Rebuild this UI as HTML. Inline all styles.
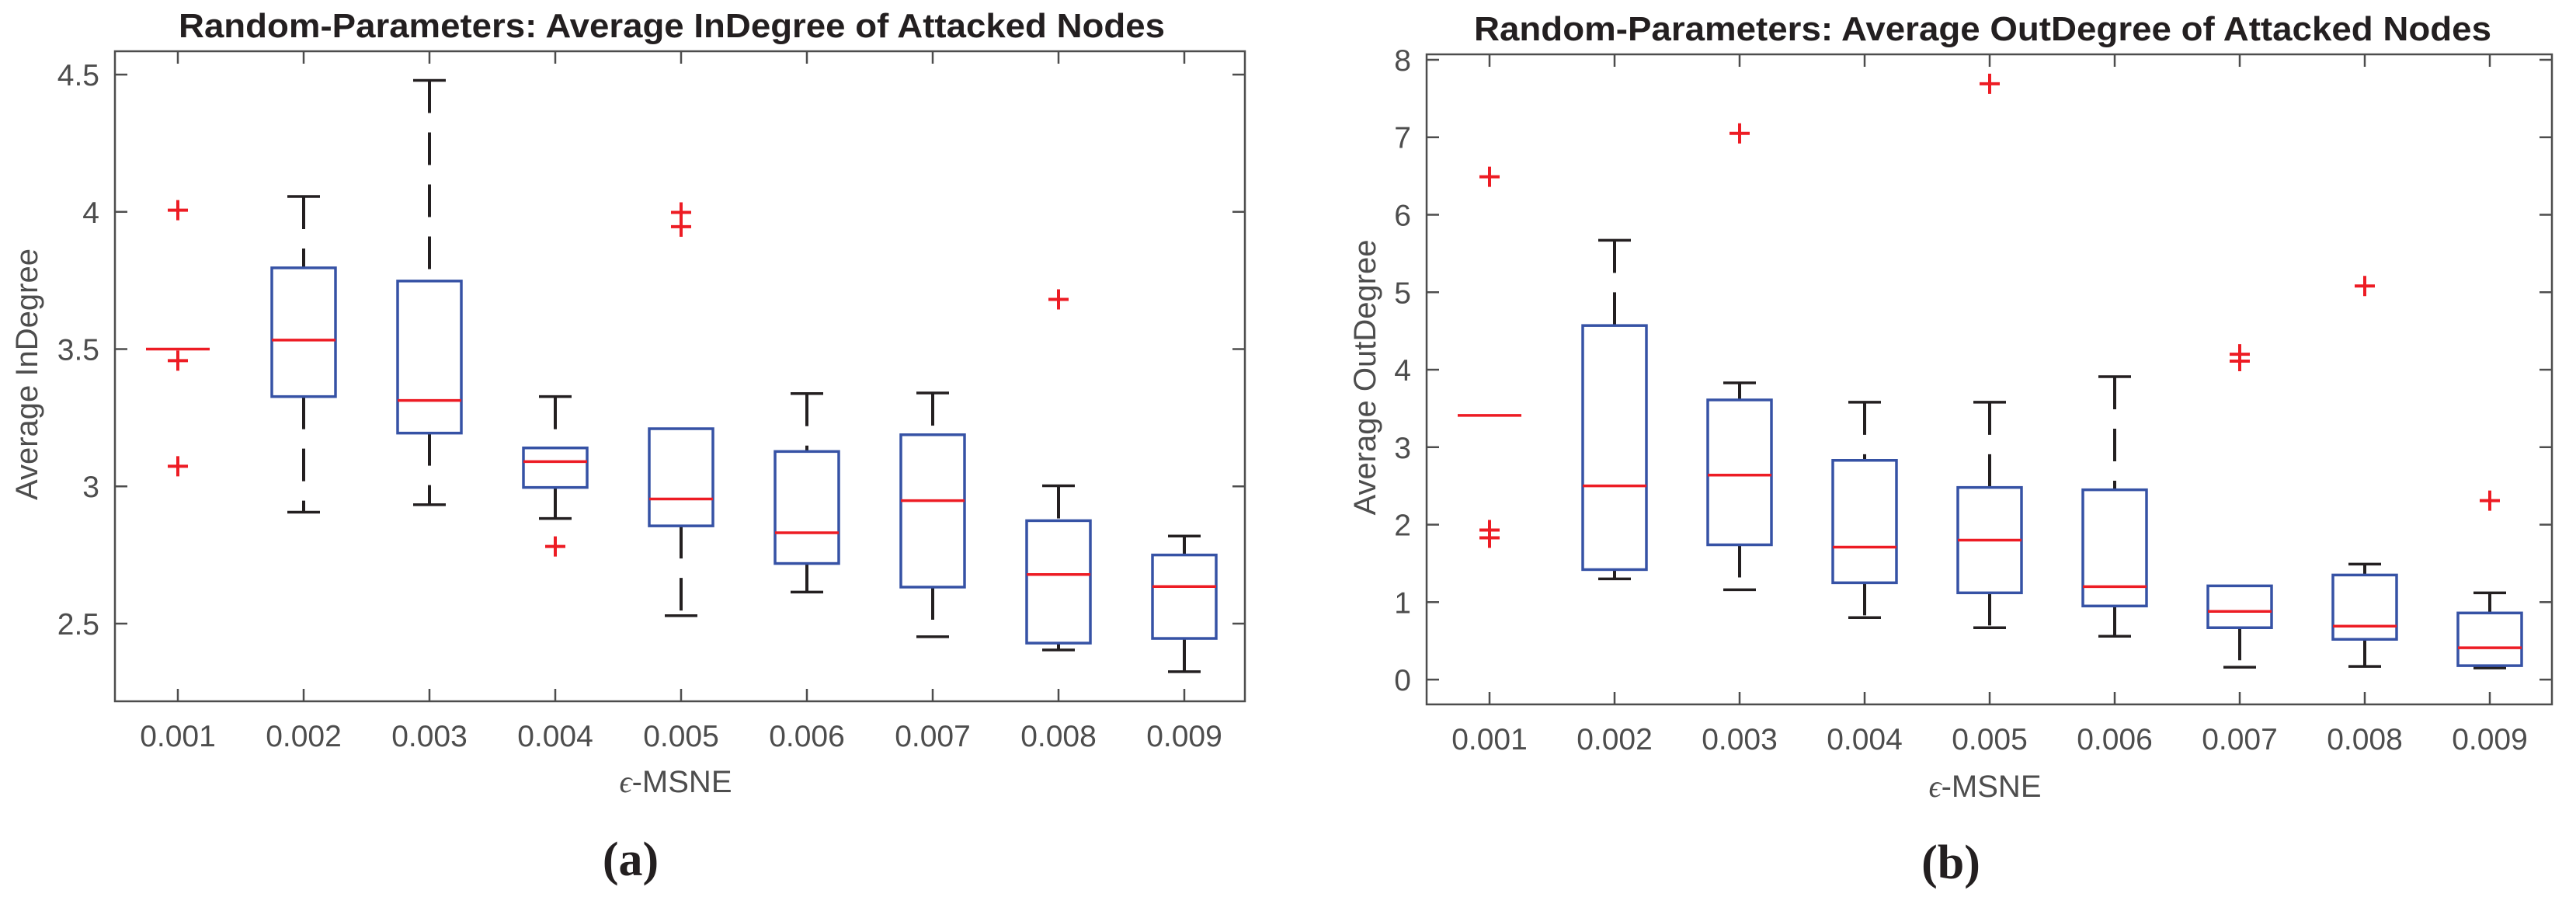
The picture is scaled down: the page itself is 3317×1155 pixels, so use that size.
<!DOCTYPE html>
<html><head><meta charset="utf-8"><style>
html,body{margin:0;padding:0;background:#fff;}
svg{display:block;}
text{font-family:"Liberation Sans",sans-serif;}
</style></head><body>
<svg id="fig" width="3317" height="1155" viewBox="0 0 3317 1155" xmlns="http://www.w3.org/2000/svg"></svg>
<script>
const categories = ["0.001","0.002","0.003","0.004","0.005","0.006","0.007","0.008","0.009"];
// Chart A: InDegree
const inLow    = [3.50, 2.906, 2.933, 2.883, 2.529, 2.615, 2.452, 2.404, 2.325];
const inQ1     = [3.50, 3.327, 3.194, 2.996, 2.856, 2.719, 2.633, 2.429, 2.446];
const inMed    = [3.50, 3.533, 3.313, 3.090, 2.954, 2.831, 2.948, 2.679, 2.635];
const inQ3     = [3.50, 3.796, 3.748, 3.140, 3.210, 3.127, 3.188, 2.875, 2.750];
const inHigh   = [3.50, 4.056, 4.479, 3.327, 3.210, 3.338, 3.340, 3.002, 2.819];
const inOutliers = [[4.006,3.458,3.073],[],[],[2.781],[3.998,3.946],[],[],[3.681],[]];
const inTicks  = [2.5, 3, 3.5, 4, 4.5];
const inTickLabels = ["2.5","3","3.5","4","4.5"];
// Chart B: OutDegree
const outLow   = [3.41, 1.30, 1.16, 0.80, 0.67, 0.56, 0.16, 0.17, 0.15];
const outQ1    = [3.41, 1.42, 1.74, 1.25, 1.12, 0.95, 0.67, 0.52, 0.18];
const outMed   = [3.41, 2.50, 2.64, 1.71, 1.80, 1.20, 0.88, 0.69, 0.41];
const outQ3    = [3.41, 4.57, 3.61, 2.83, 2.48, 2.45, 1.21, 1.35, 0.86];
const outHigh  = [3.41, 5.67, 3.83, 3.58, 3.58, 3.91, 1.21, 1.49, 1.12];
const outOutliers = [[6.49,1.93,1.83],[],[7.05],[],[7.69],[],[4.20,4.11],[5.08],[2.31]];
const outTicks = [0,1,2,3,4,5,6,7,8];
const outTickLabels = ["0","1","2","3","4","5","6","7","8"];

const NS = "http://www.w3.org/2000/svg";
const svg = document.getElementById('fig');
function mk(tag, attrs, parent){
  const e = document.createElementNS(NS, tag);
  for (const k in attrs) e.setAttribute(k, attrs[k]);
  (parent||svg).appendChild(e);
  return e;
}

function drawChart(cfg){
  const g = mk('g', {});
  
  
  const {L,R,T,B,x0,dx,yTop,yBot} = cfg;
  const sy = v => T + (yTop - v) / (yTop - yBot) * (B - T);
  const sx = i => x0 + dx * i;
  const axisCol = '#4d4d4d';
  const t = mk('text', {x: cfg.titleX, y: cfg.titleY, 'text-anchor':'middle', 'font-size':44, 'font-weight':'bold', fill:'#231f20', textLength: cfg.titleW, lengthAdjust:'spacingAndGlyphs'}, g);
  t.textContent = cfg.title;
  
  
  const fr = mk('rect', {x:L, y:T, width:R-L, height:B-T, fill:'none', stroke:axisCol, 'stroke-width':2.5}, g);
  
  
  cfg.ticks.forEach((v,k)=>{
    const y = sy(v);
    mk('line', {x1:L, x2:L+16, y1:y, y2:y, stroke:axisCol, 'stroke-width':2.5}, g);
    mk('line', {x1:R, x2:R-16, y1:y, y2:y, stroke:axisCol, 'stroke-width':2.5}, g);
    const tl = mk('text', {x:L-20, y:y+14, 'text-anchor':'end', 'font-size':39, fill:axisCol}, g);
    tl.textContent = cfg.tickLabels[k];
    
    
  });
  categories.forEach((c,i)=>{
    const x = sx(i);
    mk('line', {x1:x, x2:x, y1:B, y2:B-16, stroke:axisCol, 'stroke-width':2.5}, g);
    mk('line', {x1:x, x2:x, y1:T, y2:T+16, stroke:axisCol, 'stroke-width':2.5}, g);
    const tl = mk('text', {x:x, y:cfg.tickY, 'text-anchor':'middle', 'font-size':39, fill:axisCol}, g);
    tl.textContent = c;
    
    
  });
  const xl = mk('text', {x:cfg.xlabX, y:cfg.xlabY, 'text-anchor':'middle', 'font-size':40, fill:axisCol}, g);
  xl.innerHTML = '<tspan style="font-family:\'Liberation Serif\',serif;font-style:italic">ϵ</tspan>-MSNE';
  
  
  const yl = mk('text', {x:0, y:0, 'text-anchor':'middle', 'font-size':40, fill:axisCol, transform:`translate(${cfg.ylabX},${cfg.ylabY}) rotate(-90)`}, g);
  yl.textContent = cfg.ylabel;
  
  
  const pl = mk('text', {x:cfg.panelX, y:cfg.panelY, 'text-anchor':'middle', 'font-size':62, 'font-weight':'bold', fill:'#231f20', style:"font-family:'Liberation Serif',serif"}, g);
  pl.textContent = cfg.panel;
  
  
  const hw = 41, cw = 21;
  categories.forEach((c,i)=>{
    const x = sx(i);
    const bg = mk('g', {}, g);
    
    
    const lo = cfg.low[i], q1 = cfg.q1[i], md = cfg.med[i], q3 = cfg.q3[i], hi = cfg.high[i];
    if (hi > q3) {
      mk('line', {x1:x, x2:x, y1:sy(hi), y2:sy(q3), stroke:'#231f20', 'stroke-width':4, 'stroke-dasharray':'42 25'}, bg);
      mk('line', {x1:x-cw, x2:x+cw, y1:sy(hi), y2:sy(hi), stroke:'#231f20', 'stroke-width':3.5}, bg);
    }
    if (lo < q1) {
      mk('line', {x1:x, x2:x, y1:sy(q1), y2:sy(lo), stroke:'#231f20', 'stroke-width':4, 'stroke-dasharray':'42 25'}, bg);
      mk('line', {x1:x-cw, x2:x+cw, y1:sy(lo), y2:sy(lo), stroke:'#231f20', 'stroke-width':3.5}, bg);
    }
    if (q3 > q1) {
      mk('rect', {x:x-hw, y:sy(q3), width:2*hw, height:sy(q1)-sy(q3), fill:'none', stroke:'#3652a5', 'stroke-width':3.5}, bg);
    }
    mk('line', {x1:x-hw, x2:x+hw, y1:sy(md), y2:sy(md), stroke:'#ed1c24', 'stroke-width':3.5}, bg);
    cfg.outliers[i].forEach(v=>{
      const y = sy(v);
      const o = mk('path', {d:`M${x-13},${y}H${x+13}M${x},${y-13}V${y+13}`, stroke:'#ed1c24', 'stroke-width':4, fill:'none'}, bg);
      
      
    });
  });
}

drawChart({name:'indegree-chart', L:148, R:1603, T:66, B:903, x0:229, dx:162, yTop:4.585, yBot:2.217,
  ticks:inTicks, tickLabels:inTickLabels, low:inLow, q1:inQ1, med:inMed, q3:inQ3, high:inHigh, outliers:inOutliers,
  title:'Random-Parameters: Average InDegree of Attacked Nodes', titleX:865, titleY:48, titleW:1270,
  tickY:961, xlabX:870, xlabY:1020, ylabX:48, ylabY:482, ylabel:'Average InDegree', panel:'(a)', panelX:812, panelY:1127});

drawChart({name:'outdegree-chart', L:1837, R:3286, T:70, B:907, x0:1918, dx:161, yTop:8.07, yBot:-0.32,
  ticks:outTicks, tickLabels:outTickLabels, low:outLow, q1:outQ1, med:outMed, q3:outQ3, high:outHigh, outliers:outOutliers,
  title:'Random-Parameters: Average OutDegree of Attacked Nodes', titleX:2553, titleY:52, titleW:1310,
  tickY:965, xlabX:2556, xlabY:1026, ylabX:1771, ylabY:486, ylabel:'Average OutDegree', panel:'(b)', panelX:2512, panelY:1131});
</script>
</body></html>
